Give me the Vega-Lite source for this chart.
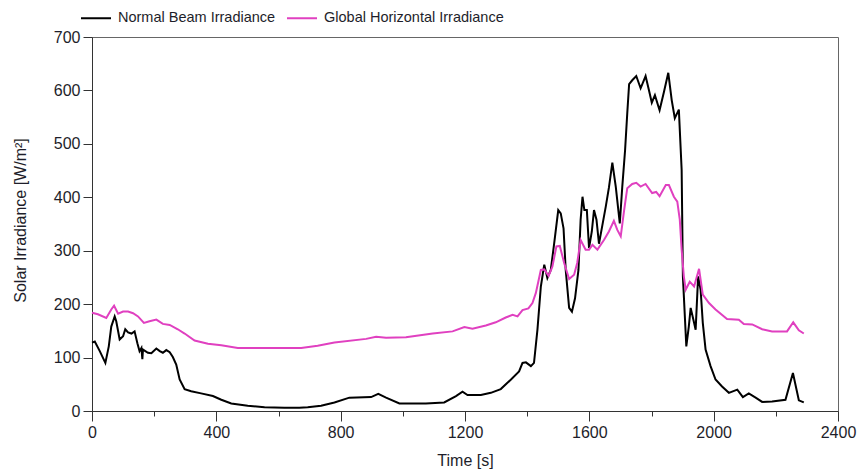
{
  "$schema": "https://vega.github.io/schema/vega-lite/v6.json",
  "width": 746,
  "height": 374,
  "autosize": {"type": "none"},
  "padding": {"left": 92, "top": 37, "right": 19, "bottom": 62},
  "background": "white",
  "config": {
    "view": {"stroke": "#666", "strokeWidth": 1},
    "font": "Liberation Sans"
  },
  "layer": [
    {
      "data": {"values": [
        {"t":0,"v":128},{"t":9,"v":130},{"t":25,"v":112},{"t":43,"v":90},{"t":54,"v":121},{"t":62,"v":158},{"t":73,"v":177},{"t":78,"v":168},{"t":89,"v":134},{"t":100,"v":140},{"t":107,"v":153},{"t":116,"v":147},{"t":127,"v":145},{"t":137,"v":149},{"t":146,"v":127},{"t":153,"v":112},{"t":159,"v":118},{"t":162,"v":97},{"t":164,"v":115},{"t":180,"v":109},{"t":191,"v":108},{"t":207,"v":117},{"t":218,"v":112},{"t":228,"v":109},{"t":239,"v":114},{"t":250,"v":110},{"t":260,"v":101},{"t":271,"v":87},{"t":282,"v":59},{"t":298,"v":41},{"t":319,"v":37},{"t":351,"v":33},{"t":389,"v":28},{"t":416,"v":21},{"t":448,"v":14},{"t":501,"v":10},{"t":555,"v":7},{"t":619,"v":6},{"t":667,"v":6},{"t":694,"v":7},{"t":737,"v":10},{"t":780,"v":16},{"t":828,"v":25},{"t":898,"v":26},{"t":921,"v":32},{"t":946,"v":25},{"t":989,"v":14},{"t":1074,"v":14},{"t":1133,"v":16},{"t":1171,"v":28},{"t":1192,"v":36},{"t":1208,"v":30},{"t":1251,"v":30},{"t":1283,"v":34},{"t":1315,"v":41},{"t":1348,"v":59},{"t":1374,"v":74},{"t":1385,"v":90},{"t":1396,"v":91},{"t":1412,"v":84},{"t":1422,"v":90},{"t":1433,"v":152},{"t":1444,"v":233},{"t":1455,"v":274},{"t":1465,"v":249},{"t":1476,"v":264},{"t":1487,"v":314},{"t":1500,"v":376},{"t":1508,"v":370},{"t":1517,"v":342},{"t":1524,"v":264},{"t":1535,"v":193},{"t":1544,"v":186},{"t":1554,"v":211},{"t":1565,"v":264},{"t":1572,"v":358},{"t":1578,"v":401},{"t":1584,"v":376},{"t":1592,"v":376},{"t":1599,"v":305},{"t":1608,"v":336},{"t":1615,"v":376},{"t":1623,"v":358},{"t":1631,"v":313},{"t":1642,"v":348},{"t":1653,"v":383},{"t":1663,"v":418},{"t":1674,"v":465},{"t":1685,"v":420},{"t":1698,"v":351},{"t":1706,"v":420},{"t":1715,"v":488},{"t":1722,"v":557},{"t":1728,"v":612},{"t":1738,"v":619},{"t":1751,"v":627},{"t":1765,"v":604},{"t":1781,"v":627},{"t":1792,"v":600},{"t":1801,"v":577},{"t":1811,"v":591},{"t":1826,"v":563},{"t":1840,"v":597},{"t":1854,"v":633},{"t":1865,"v":582},{"t":1875,"v":548},{"t":1888,"v":564},{"t":1897,"v":451},{"t":1901,"v":252},{"t":1912,"v":121},{"t":1920,"v":158},{"t":1926,"v":193},{"t":1937,"v":165},{"t":1942,"v":152},{"t":1950,"v":252},{"t":1958,"v":227},{"t":1965,"v":165},{"t":1974,"v":115},{"t":1990,"v":84},{"t":2006,"v":59},{"t":2027,"v":46},{"t":2049,"v":34},{"t":2076,"v":40},{"t":2094,"v":26},{"t":2113,"v":33},{"t":2135,"v":25},{"t":2156,"v":17},{"t":2188,"v":18},{"t":2231,"v":21},{"t":2255,"v":71},{"t":2274,"v":20},{"t":2290,"v":16}
      ]},
      "mark": {"type": "line", "strokeWidth": 2, "interpolate": "linear"},
      "encoding": {
        "x": {"field": "t", "type": "quantitative"},
        "y": {"field": "v", "type": "quantitative"},
        "color": {"datum": "Normal Beam Irradiance"}
      }
    },
    {
      "data": {"values": [
        {"t":0,"v":184},{"t":19,"v":181},{"t":46,"v":174},{"t":62,"v":190},{"t":71,"v":197},{"t":84,"v":182},{"t":100,"v":186},{"t":116,"v":186},{"t":132,"v":183},{"t":148,"v":177},{"t":167,"v":165},{"t":185,"v":168},{"t":207,"v":171},{"t":228,"v":163},{"t":250,"v":161},{"t":276,"v":153},{"t":298,"v":145},{"t":330,"v":132},{"t":373,"v":126},{"t":416,"v":123},{"t":469,"v":118},{"t":566,"v":118},{"t":673,"v":118},{"t":726,"v":122},{"t":780,"v":128},{"t":882,"v":135},{"t":914,"v":139},{"t":946,"v":137},{"t":1010,"v":138},{"t":1096,"v":145},{"t":1160,"v":149},{"t":1198,"v":157},{"t":1224,"v":154},{"t":1267,"v":160},{"t":1299,"v":166},{"t":1331,"v":175},{"t":1353,"v":180},{"t":1369,"v":177},{"t":1385,"v":189},{"t":1404,"v":192},{"t":1417,"v":202},{"t":1428,"v":221},{"t":1444,"v":264},{"t":1455,"v":265},{"t":1469,"v":253},{"t":1481,"v":270},{"t":1494,"v":308},{"t":1505,"v":309},{"t":1519,"v":277},{"t":1535,"v":247},{"t":1551,"v":255},{"t":1561,"v":277},{"t":1572,"v":320},{"t":1588,"v":302},{"t":1599,"v":302},{"t":1610,"v":311},{"t":1626,"v":302},{"t":1647,"v":320},{"t":1663,"v":336},{"t":1679,"v":356},{"t":1690,"v":339},{"t":1701,"v":327},{"t":1712,"v":376},{"t":1722,"v":417},{"t":1738,"v":425},{"t":1751,"v":427},{"t":1765,"v":420},{"t":1781,"v":425},{"t":1802,"v":408},{"t":1815,"v":410},{"t":1826,"v":402},{"t":1846,"v":423},{"t":1856,"v":423},{"t":1872,"v":401},{"t":1883,"v":392},{"t":1891,"v":358},{"t":1897,"v":302},{"t":1904,"v":252},{"t":1910,"v":227},{"t":1923,"v":242},{"t":1937,"v":233},{"t":1953,"v":266},{"t":1965,"v":218},{"t":1985,"v":202},{"t":2006,"v":190},{"t":2043,"v":172},{"t":2081,"v":171},{"t":2097,"v":163},{"t":2124,"v":162},{"t":2156,"v":153},{"t":2188,"v":149},{"t":2236,"v":149},{"t":2256,"v":166},{"t":2274,"v":151},{"t":2290,"v":145}
      ]},
      "mark": {"type": "line", "strokeWidth": 2, "interpolate": "linear"},
      "encoding": {
        "x": {"field": "t", "type": "quantitative"},
        "y": {"field": "v", "type": "quantitative"},
        "color": {"datum": "Global Horizontal Irradiance"}
      }
    }
  ],
  "resolve": {"scale": {"color": "shared"}},
  "encoding": {
    "x": {
      "field": "t", "type": "quantitative",
      "scale": {"domain": [0, 2400], "nice": false, "zero": false},
      "axis": {
        "title": "Time [s]",
        "values": [0,200,400,600,800,1000,1200,1400,1600,1800,2000,2200,2400],
        "labelExpr": "datum.value % 400 === 0 ? datum.label : ''",
        "format": "d",
        "grid": false,
        "domainColor": "#333",
        "tickColor": "#333",
        "tickSize": {"condition": {"test": "datum.value % 400 === 0", "value": 10}, "value": 5},
        "labelFont": "Liberation Sans", "labelFontSize": 16, "labelColor": "#1e1e2a", "labelPadding": 3,
        "labelFlush": false, "labelOverlap": false,
        "titleFont": "Liberation Sans", "titleFontSize": 16, "titleFontWeight": "normal", "titleColor": "#1e1e2a",
        "titleX": 373, "titleY": 49, "titleBaseline": "middle", "titleAlign": "center"
      }
    },
    "y": {
      "field": "v", "type": "quantitative",
      "scale": {"domain": [0, 700], "nice": false},
      "axis": {
        "title": "Solar Irradiance [W/m²]",
        "values": [0,100,200,300,400,500,600,700],
        "grid": false,
        "domainColor": "#333",
        "tickColor": "#333",
        "tickSize": 9,
        "labelFont": "Liberation Sans", "labelFontSize": 16, "labelColor": "#1e1e2a", "labelPadding": 3,
        "labelFlush": false, "labelOverlap": false,
        "titleFont": "Liberation Sans", "titleFontSize": 16, "titleFontWeight": "normal", "titleColor": "#1e1e2a",
        "titleAngle": -90, "titleX": -72, "titleY": 183, "titleBaseline": "middle", "titleAlign": "center"
      }
    },
    "color": {
      "type": "nominal",
      "scale": {"domain": ["Normal Beam Irradiance", "Global Horizontal Irradiance"], "range": ["#000000", "#e040c0"]},
      "legend": {
        "title": null,
        "orient": "none",
        "direction": "horizontal",
        "legendX": -12,
        "legendY": -35,
        "symbolType": "stroke",
        "symbolSize": 900,
        "symbolStrokeWidth": 2,
        "labelFont": "Liberation Sans",
        "labelFontSize": 14.5,
        "labelColor": "#1e1e2a",
        "labelOffset": 6,
        "labelLimit": 400,
        "columnPadding": 7
      }
    }
  }
}
